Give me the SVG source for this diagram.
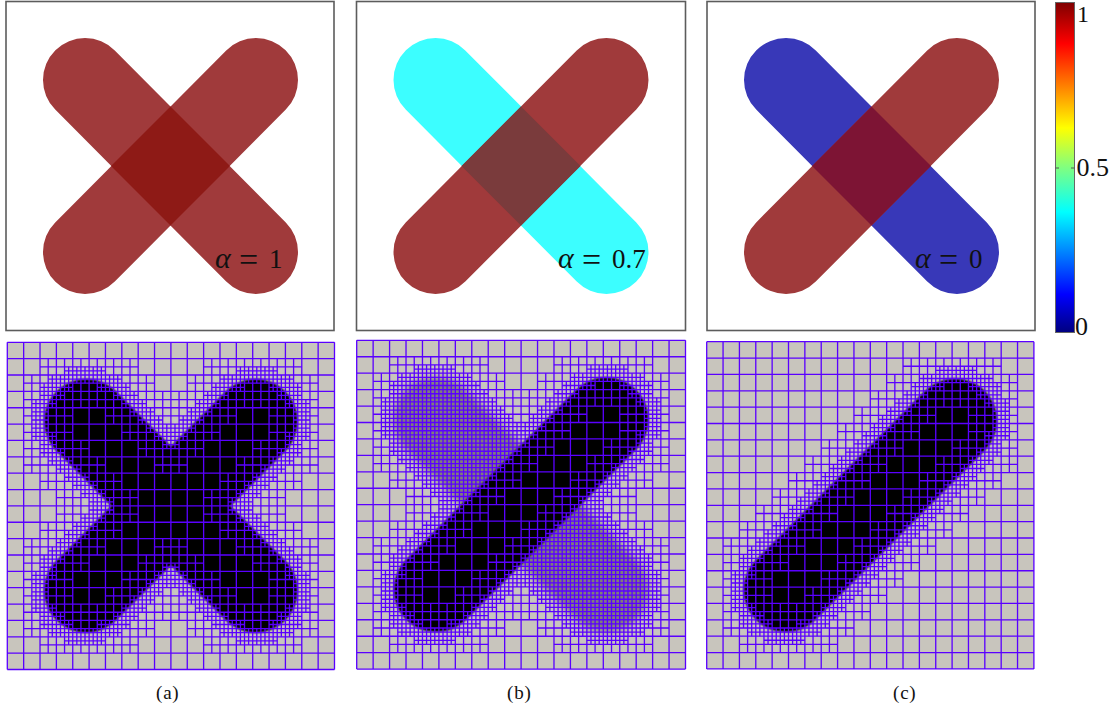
<svg xmlns="http://www.w3.org/2000/svg" width="1116" height="709" viewBox="0 0 1116 709">
<style>
.frame{fill:#fff;stroke:#5c5c5c;stroke-width:1.6}
.arm{fill:none;stroke-width:84;stroke-linecap:round}
.marm{fill:none;stroke-width:20.6;stroke-linecap:round}
.grid{fill:none;stroke:#5a00ff;stroke-width:.32}
.t{font-family:"Liberation Serif",serif;fill:#111}
.tm{font-size:27px}
.al{font-size:30px;font-style:italic}
.eq{font-size:34px}
.tc{font-size:26px}
.cap{font-size:19px;letter-spacing:.8px}
</style>
<defs>
<linearGradient id="jet" x1="0" y1="0" x2="0" y2="1">
<stop offset="0" stop-color="#7f0000"/><stop offset=".125" stop-color="#ff0000"/><stop offset=".38" stop-color="#ffff00"/><stop offset=".5" stop-color="#80ff80"/><stop offset=".635" stop-color="#00ffff"/><stop offset=".885" stop-color="#0000ff"/><stop offset="1" stop-color="#00007f"/>
</linearGradient>
<filter id="b1" x="-5" y="-5" width="90" height="90" filterUnits="userSpaceOnUse"><feGaussianBlur stdDeviation=".3"/></filter>
<filter id="b2" x="-5" y="-5" width="90" height="90" filterUnits="userSpaceOnUse"><feGaussianBlur stdDeviation=".9"/></filter>
<path id="g0" d="M0 0V80M4 0V80M8 0V80M12 0V80M16 0V80M20 0V80M24 0V80M28 0V80M32 0V80M36 0V80M40 0V80M44 0V80M48 0V80M52 0V80M56 0V80M60 0V80M64 0V80M68 0V80M72 0V80M76 0V80M80 0V80M0 0H80M0 4H80M0 8H80M0 12H80M0 16H80M0 20H80M0 24H80M0 28H80M0 32H80M0 36H80M0 40H80M0 44H80M0 48H80M0 52H80M0 56H80M0 60H80M0 64H80M0 68H80M0 72H80M0 76H80M0 80H80"/>
<path id="g1" d="M2 0V80M6 0V80M10 0V80M14 0V80M18 0V80M22 0V80M26 0V80M30 0V80M34 0V80M38 0V80M42 0V80M46 0V80M50 0V80M54 0V80M58 0V80M62 0V80M66 0V80M70 0V80M74 0V80M78 0V80M0 2H80M0 6H80M0 10H80M0 14H80M0 18H80M0 22H80M0 26H80M0 30H80M0 34H80M0 38H80M0 42H80M0 46H80M0 50H80M0 54H80M0 58H80M0 62H80M0 66H80M0 70H80M0 74H80M0 78H80"/>
<path id="g2" d="M1 0V80M3 0V80M5 0V80M7 0V80M9 0V80M11 0V80M13 0V80M15 0V80M17 0V80M19 0V80M21 0V80M23 0V80M25 0V80M27 0V80M29 0V80M31 0V80M33 0V80M35 0V80M37 0V80M39 0V80M41 0V80M43 0V80M45 0V80M47 0V80M49 0V80M51 0V80M53 0V80M55 0V80M57 0V80M59 0V80M61 0V80M63 0V80M65 0V80M67 0V80M69 0V80M71 0V80M73 0V80M75 0V80M77 0V80M79 0V80M0 1H80M0 3H80M0 5H80M0 7H80M0 9H80M0 11H80M0 13H80M0 15H80M0 17H80M0 19H80M0 21H80M0 23H80M0 25H80M0 27H80M0 29H80M0 31H80M0 33H80M0 35H80M0 37H80M0 39H80M0 41H80M0 43H80M0 45H80M0 47H80M0 49H80M0 51H80M0 53H80M0 55H80M0 57H80M0 59H80M0 61H80M0 63H80M0 65H80M0 67H80M0 69H80M0 71H80M0 73H80M0 75H80M0 77H80M0 79H80"/>
<path id="F" d="M14 6H24V8H28V10H30V12H32V14H34V16H36V18H38V20H40V22H42V24H44V26H46V28H48V30H50V32H52V34H54V36H56V38H58V40H60V42H62V44H64V46H66V48H68V50H70V52H72V56H74V66H72V70H70V72H66V74H56V72H52V70H50V68H48V66H46V64H44V62H42V60H40V58H38V56H36V54H34V52H32V50H30V48H28V46H26V44H24V42H22V40H20V38H18V36H16V34H14V32H12V30H10V28H8V24H6V14H8V10H10V8H14Z"/>
<path id="H" d="M16 10H22V12H26V14H28V16H30V18H32V20H34V22H36V24H38V26H40V28H42V30H44V32H46V34H48V36H50V38H52V40H54V42H56V44H58V46H60V48H62V50H64V52H66V54H68V58H70V64H68V66H66V68H64V70H58V68H54V66H52V64H50V62H48V60H46V58H44V56H42V54H40V52H38V50H36V48H34V46H32V44H30V42H28V40H26V38H24V36H22V34H20V32H18V30H16V28H14V26H12V22H10V16H12V14H14V12H16Z"/>
<path id="R" d="M8 4H32V8H36V12H40V16H44V20H48V24H52V28H56V32H60V36H64V40H68V44H72V48H76V72H72V76H48V72H44V68H40V64H36V60H32V56H28V52H24V48H20V44H16V40H12V36H8V32H4V8H8Z"/>
<path id="Z" d="M16 16H24V20H28V24H32V28H36V32H40V36H44V40H48V44H52V48H56V52H60V56H64V64H56V60H52V56H48V52H44V48H40V44H36V40H32V36H28V32H24V28H20V24H16Z"/>
<mask id="mAf" maskUnits="userSpaceOnUse" x="-1" y="-1" width="82" height="82"><use href="#F" fill="#fff"/><use href="#F" fill="#fff" transform="matrix(-1 0 0 1 80 0)"/><use href="#H" fill="#000"/><use href="#H" fill="#000" transform="matrix(-1 0 0 1 80 0)"/></mask>
<mask id="mAr" maskUnits="userSpaceOnUse" x="-1" y="-1" width="82" height="82"><use href="#R" fill="#fff"/><use href="#R" fill="#fff" transform="matrix(-1 0 0 1 80 0)"/><use href="#Z" fill="#000"/><use href="#Z" fill="#000" transform="matrix(-1 0 0 1 80 0)"/></mask>
<mask id="mBf" maskUnits="userSpaceOnUse" x="-1" y="-1" width="82" height="82"><use href="#F" fill="#fff"/><use href="#F" fill="#fff" transform="matrix(-1 0 0 1 80 0)"/><use href="#H" fill="#000" transform="matrix(-1 0 0 1 80 0)"/></mask>
<mask id="mBr" maskUnits="userSpaceOnUse" x="-1" y="-1" width="82" height="82"><use href="#R" fill="#fff"/><use href="#R" fill="#fff" transform="matrix(-1 0 0 1 80 0)"/><use href="#Z" fill="#000" transform="matrix(-1 0 0 1 80 0)"/></mask>
<mask id="mCf" maskUnits="userSpaceOnUse" x="-1" y="-1" width="82" height="82"><use href="#F" fill="#fff" transform="matrix(-1 0 0 1 80 0)"/><use href="#H" fill="#000" transform="matrix(-1 0 0 1 80 0)"/></mask>
<mask id="mCr" maskUnits="userSpaceOnUse" x="-1" y="-1" width="82" height="82"><use href="#R" fill="#fff" transform="matrix(-1 0 0 1 80 0)"/><use href="#Z" fill="#000" transform="matrix(-1 0 0 1 80 0)"/></mask>
</defs>
<rect width="1116" height="709" fill="#fff"/>

<g id="panel-top-a">
<rect class="frame" x="6" y="1.5" width="328" height="329"/>
<path class="arm" stroke="#a03a3b" d="M85 80L256 252M256 80L85 252"/>
<polygon fill="#8e1a16" points="170.500,106.500 230,166 170.500,225.500 111,166"/>
<text class="t al" x="215" y="268">α</text><text class="t eq" x="239" y="271">=</text><text class="t tm" x="269" y="268">1</text>
</g>
<g id="panel-top-b">
<rect class="frame" x="356.500" y="1.500" width="329" height="329"/>
<path class="arm" stroke="#3cfeff" d="M435.500 80L606.500 252"/>
<path class="arm" stroke="#a03a3b" d="M606.500 80L435.500 252"/>
<polygon fill="#7a3b3c" points="521,106.500 580.500,166 521,225.500 461.500,166"/>
<text class="t al" x="558" y="268">α</text><text class="t eq" x="582" y="271">=</text><text class="t tm" x="612" y="268">0.7</text>
</g>
<g id="panel-top-c">
<rect class="frame" x="707" y="1.500" width="328" height="329"/>
<path class="arm" stroke="#3838b8" d="M786 80L957 252"/>
<path class="arm" stroke="#a03a3b" d="M957 80L786 252"/>
<polygon fill="#7d1434" points="871.500,106.500 931,166 871.500,225.500 812,166"/>
<text class="t al" x="915" y="268">α</text><text class="t eq" x="939" y="271">=</text><text class="t tm" x="969" y="268">0</text>
</g>

<g id="colorbar">
<rect x="1055.500" y="2.500" width="19" height="330" fill="url(#jet)" stroke="#666" stroke-width="1"/>
<path d="M1055.500 168H1059M1071 168H1074.500" stroke="#555" stroke-width="1"/>
<text class="t" font-size="24" x="1077" y="21.500">1</text>
<text class="t tc" x="1076.500" y="176">0.5</text>
<text class="t tc" x="1075" y="335">0</text>
</g>

<g id="mesh-a" transform="translate(7.3 342.3) scale(4.09)">
<rect width="80" height="80" fill="#c8c5bd"/>
<path class="marm" stroke="#000" filter="url(#b1)" d="M19.300 19.300L60.700 60.700M60.700 19.300L19.300 60.700"/>
<use href="#g2" class="grid" mask="url(#mAf)"/>
<use href="#g1" class="grid" mask="url(#mAr)"/>
<use href="#g0" class="grid"/>
</g>
<g id="mesh-b" transform="translate(356.7 340.3) scale(4.11)">
<rect width="80" height="80" fill="#c8c5bd"/>
<path class="marm" stroke="#807c7c" filter="url(#b2)" d="M19.300 19.300L60.700 60.700"/>
<path class="marm" stroke="#000" filter="url(#b1)" d="M60.700 19.300L19.300 60.700"/>
<use href="#g2" class="grid" mask="url(#mBf)"/>
<use href="#g1" class="grid" mask="url(#mBr)"/>
<use href="#g0" class="grid"/>
</g>
<g id="mesh-c" transform="translate(706.7 341.7) scale(4.09)">
<rect width="80" height="80" fill="#c8c5bd"/>
<path class="marm" stroke="#000" filter="url(#b1)" d="M60.700 19.300L19.300 60.700"/>
<use href="#g2" class="grid" mask="url(#mCf)"/>
<use href="#g1" class="grid" mask="url(#mCr)"/>
<use href="#g0" class="grid"/>
</g>

<g id="captions">
<text class="t cap" x="156" y="699">(a)</text>
<text class="t cap" x="507" y="699">(b)</text>
<text class="t cap" x="893" y="699">(c)</text>
</g>
</svg>
